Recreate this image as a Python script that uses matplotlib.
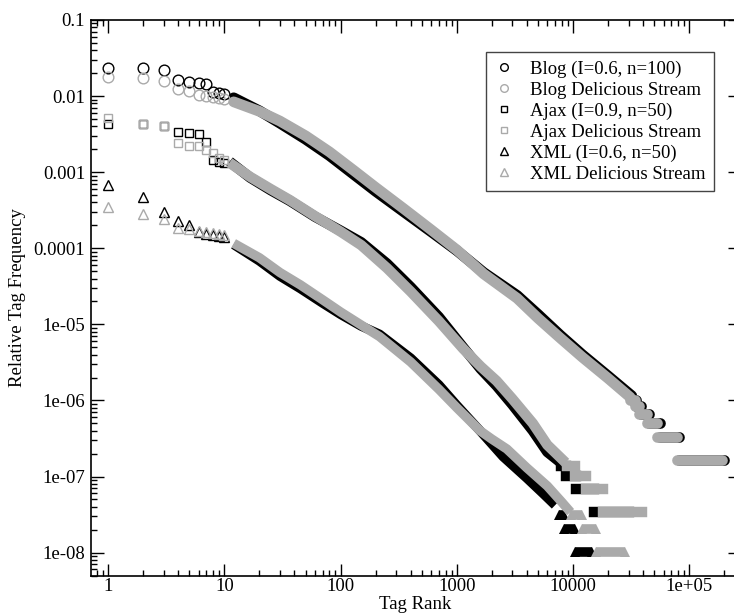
import numpy as np
import matplotlib
matplotlib.use("Agg")
import matplotlib.pyplot as plt
from matplotlib.ticker import LogLocator, FixedLocator, FixedFormatter, NullFormatter
from matplotlib.lines import Line2D

# --- data (rank, relative frequency) ---
head_ranks = [1, 2, 3, 4, 5, 6, 7, 8, 9, 10]

blog_model_head = [0.0232, 0.0232, 0.0220, 0.0163, 0.0153, 0.0147, 0.0144, 0.0114, 0.0111, 0.0107]
blog_deli_head = [0.0180, 0.0174, 0.0158, 0.0124, 0.0118, 0.0103, 0.0101, 0.0097, 0.0094, 0.0091]
ajax_model_head = [0.00426, 0.00426, 0.0041, 0.00335, 0.00325, 0.00315, 0.0025, 0.00145, 0.00137, 0.00131]
ajax_deli_head = [0.0052, 0.0043, 0.0041, 0.0024, 0.00222, 0.00222, 0.00196, 0.00177, 0.00152, 0.00145]
xml_model_head = [0.00068, 0.000478, 0.000298, 0.000229, 0.000200, 0.000166, 0.000154, 0.000149, 0.000146, 0.000140]
xml_deli_head = [0.000352, 0.000279, 0.000244, 0.000187, 0.000177, 0.000170, 0.000165, 0.000160, 0.000155, 0.000150]

blog_model_rank = [12, 20, 30, 50, 80, 130, 200, 350, 600, 1000, 1700, 3300, 5000, 7760, 12000, 20000, 32000]
blog_model_freq = [0.0095, 0.0064, 0.0044, 0.0027, 0.00165, 0.00093, 0.00056, 0.00030, 0.000165, 9.3e-5,
                   4.8e-5, 2.4e-5, 1.35e-5, 7.2e-6, 4.0e-6, 2.1e-6, 1.15e-6]
blog_deli_rank = [12, 20, 30, 50, 80, 130, 200, 350, 600, 1000, 1700, 3300, 5000, 7760, 12000, 20000, 31000]
blog_deli_freq = [0.0084, 0.0063, 0.0047, 0.0030, 0.00185, 0.00105, 0.00063, 0.00033, 0.000175, 9.5e-5,
                  4.6e-5, 2.2e-5, 1.2e-5, 6.6e-6, 3.7e-6, 1.95e-6, 1.1e-6]

ajax_model_rank = [12, 16.6, 25, 36.5, 60, 100, 150, 250, 400, 700, 1130, 1600, 2200, 3000, 4500, 6000, 7500]
ajax_model_freq = [0.00125, 8.5e-4, 5.8e-4, 4.2e-4, 2.6e-4, 1.7e-4, 1.2e-4, 6.3e-5, 3.1e-5, 1.25e-5,
                   5.0e-6, 2.6e-6, 1.55e-6, 8.8e-7, 4.0e-7, 2.1e-7, 1.6e-7]
ajax_deli_rank = [12, 16.6, 25, 36.5, 60, 100, 150, 250, 400, 700, 1130, 1600, 2200, 3000, 4500, 6000, 8000]
ajax_deli_freq = [0.00122, 8.7e-4, 6.0e-4, 4.3e-4, 2.65e-4, 1.65e-4, 1.1e-4, 5.5e-5, 2.7e-5, 1.1e-5,
                  4.8e-6, 2.8e-6, 1.8e-6, 1.05e-6, 5.0e-7, 2.6e-7, 1.7e-7]

xml_model_rank = [12, 20, 30, 45, 70, 100, 150, 216, 400, 700, 1000, 1580, 2500, 4000, 5500, 7000]
xml_model_freq = [1.12e-4, 6.8e-5, 4.3e-5, 2.95e-5, 1.9e-5, 1.35e-5, 9.5e-6, 7.4e-6, 3.6e-6, 1.6e-6,
                  8.6e-7, 4.0e-7, 1.82e-7, 9.5e-8, 6.0e-8, 4.2e-8]
xml_deli_rank = [12, 20, 30, 45, 70, 100, 150, 216, 400, 700, 1000, 1580, 2000, 2690, 4000, 6000, 8000, 9500]
xml_deli_freq = [1.16e-4, 7.5e-5, 4.8e-5, 3.3e-5, 2.1e-5, 1.45e-5, 9.8e-6, 6.9e-6, 3.2e-6, 1.4e-6,
                 8.0e-7, 4.0e-7, 3.1e-7, 2.3e-7, 1.3e-7, 7.5e-8, 4.6e-8, 3.4e-8]

# tail runs of equal frequency (tags seen 6,5,4,...,1 times)
blog_tail_freq = [1.0e-6, 8.33e-7, 6.67e-7, 5.0e-7, 3.33e-7, 1.67e-7]
blog_model_tail_start = [32000, 35000, 38500, 45000, 55500, 81000]
blog_model_tail_end = [35000, 38500, 45000, 55500, 81000, 200000]
blog_deli_tail_start = [31000, 34000, 37000, 43000, 53000, 78000]
blog_deli_tail_end = [34000, 37000, 43000, 53000, 78000, 193000]

ajax_tail_freq = [1.38e-7, 1.03e-7, 6.9e-8, 3.45e-8]
ajax_model_tail_start = [7800, 8700, 10500, 15000]
ajax_model_tail_end = [8700, 10500, 15000, 30000]
ajax_deli_tail_start = [8800, 10400, 12800, 18000]
ajax_deli_tail_end = [10400, 12800, 18000, 39500]

xml_tail_freq = [3.09e-8, 2.06e-8, 1.03e-8]
xml_model_tail_start = [7500, 8300, 10400]
xml_model_tail_end = [8300, 10400, 14500]
xml_deli_tail_start = [9500, 12000, 15800]
xml_deli_tail_end = [12000, 15800, 28000]

labels = ["Blog (I=0.6, n=100)", "Blog Delicious Stream",
          "Ajax (I=0.9, n=50)", "Ajax Delicious Stream",
          "XML (I=0.6, n=50)", "XML Delicious Stream"]

x_tick_vals = [1, 10, 100, 1000, 10000, 100000]
x_tick_labels = ["1", "10", "100", "1000", "10000", "1e+05"]
y_tick_vals = [1e-8, 1e-7, 1e-6, 1e-5, 1e-4, 1e-3, 1e-2, 1e-1]
y_tick_labels = ["1e-08", "1e-07", "1e-06", "1e-05", "0.0001", "0.001", "0.01", "0.1"]

BLACK = "#000000"
GRAY = "#aaaaaa"

plt.rcParams["font.family"] = ["Liberation Serif", "DejaVu Serif"]

fig = plt.figure(figsize=(7.34, 6.15), dpi=100)
ax = fig.add_axes([90.7 / 734, 1 - 575.5 / 615, 649.3 / 734, 555.5 / 615])
ax.set_xscale("log")
ax.set_yscale("log")


def draw_series(head, ranks, freqs, t_start, t_end, t_freq, color, marker, ms, lw):
    if marker == "o":
        cap = "round"
    elif marker == "s":
        cap = "projecting"
    else:
        cap = "butt"
    ax.plot(ranks, freqs, color=color, lw=lw, solid_capstyle=cap, solid_joinstyle="round")
    for s, e, f in zip(t_start, t_end, t_freq):
        if marker == "^":
            ax.plot([s, e], [f, f], color=color, lw=ms * 0.9, solid_capstyle="butt",
                    marker="^", ms=ms, mfc=color, mec=color, mew=0)
        else:
            ax.plot([s, e], [f, f], color=color, lw=lw, solid_capstyle=cap)
    ax.plot(head_ranks, head, ls="none", marker=marker, ms=ms, mfc="none", mec=color, mew=1.0)


draw_series(blog_model_head, blog_model_rank, blog_model_freq, blog_model_tail_start,
            blog_model_tail_end, blog_tail_freq, BLACK, "o", 7.7, 7.7)
draw_series(blog_deli_head, blog_deli_rank, blog_deli_freq, blog_deli_tail_start,
            blog_deli_tail_end, blog_tail_freq, GRAY, "o", 7.7, 7.7)
draw_series(ajax_model_head, ajax_model_rank, ajax_model_freq, ajax_model_tail_start,
            ajax_model_tail_end, ajax_tail_freq, BLACK, "s", 6.3, 7.5)
draw_series(ajax_deli_head, ajax_deli_rank, ajax_deli_freq, ajax_deli_tail_start,
            ajax_deli_tail_end, ajax_tail_freq, GRAY, "s", 6.3, 7.5)
draw_series(xml_model_head, xml_model_rank, xml_model_freq, xml_model_tail_start,
            xml_model_tail_end, xml_tail_freq, BLACK, "^", 7.7, 6.8)
draw_series(xml_deli_head, xml_deli_rank, xml_deli_freq, xml_deli_tail_start,
            xml_deli_tail_end, xml_tail_freq, GRAY, "^", 7.7, 6.8)

ax.set_xlim(0.706, 2.73e5)
ax.set_ylim(5.0e-9, 0.1)

ax.xaxis.set_major_locator(FixedLocator(x_tick_vals))
ax.xaxis.set_major_formatter(FixedFormatter(x_tick_labels))
ax.xaxis.set_minor_locator(LogLocator(base=10, subs=np.arange(2, 10), numticks=20))
ax.xaxis.set_minor_formatter(NullFormatter())
ax.yaxis.set_major_locator(FixedLocator(y_tick_vals))
ax.yaxis.set_major_formatter(FixedFormatter(y_tick_labels))
ax.yaxis.set_minor_locator(LogLocator(base=10, subs=np.arange(2, 10), numticks=20))
ax.yaxis.set_minor_formatter(NullFormatter())

ax.tick_params(which="both", direction="in", top=True, right=True, width=1.0, labelsize=13.5)
ax.tick_params(which="major", length=9, pad=4)
ax.tick_params(axis="x", which="major", pad=2)
ax.tick_params(which="minor", length=4.5, right=False)
for sp in ax.spines.values():
    sp.set_linewidth(1.2)

ax.set_xlabel("Tag Rank", fontsize=13.5, va="center")
ax.set_ylabel("Relative Tag Frequency", fontsize=13.5, va="center")
ax.xaxis.set_label_coords(0.5, -0.052)
ax.yaxis.set_label_coords(-0.112, 0.5)

handles = [
    Line2D([], [], ls="none", marker="o", ms=5.5, mfc="none", mec=BLACK, mew=1.0),
    Line2D([], [], ls="none", marker="o", ms=5.5, mfc="none", mec=GRAY, mew=1.0),
    Line2D([], [], ls="none", marker="s", ms=4.8, mfc="none", mec=BLACK, mew=1.0),
    Line2D([], [], ls="none", marker="s", ms=4.8, mfc="none", mec=GRAY, mew=1.0),
    Line2D([], [], ls="none", marker="^", ms=5.5, mfc="none", mec=BLACK, mew=1.0),
    Line2D([], [], ls="none", marker="^", ms=5.5, mfc="none", mec=GRAY, mew=1.0),
]
leg = ax.legend(handles, labels, loc="upper right", bbox_to_anchor=(0.96, 0.942),
                borderaxespad=0, fontsize=13.5, frameon=True, fancybox=False, framealpha=1,
                edgecolor="#444444", handlelength=1.0, handletextpad=0.9,
                labelspacing=0.2, borderpad=0.45)
leg.get_frame().set_linewidth(1.0)

fig.savefig("out.png", dpi=100)
